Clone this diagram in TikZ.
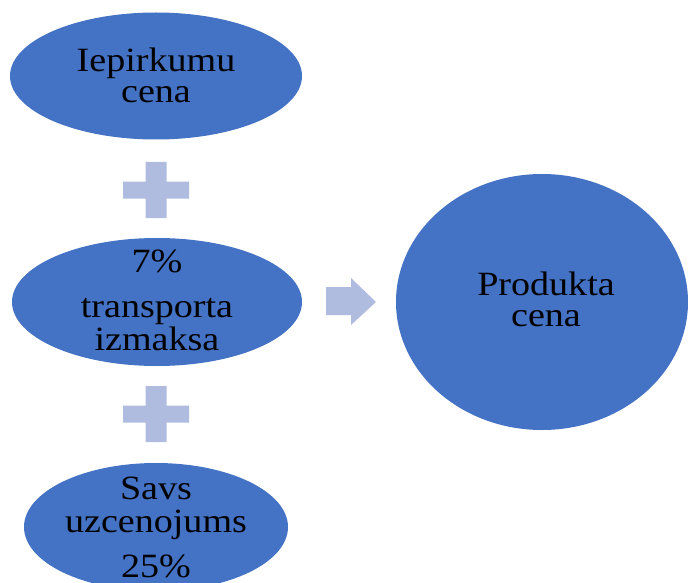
\documentclass[tikz,border=0pt]{standalone}
\usepackage{fontspec}
\setmainfont[FakeStretch=1.12]{Liberation Serif}
\usetikzlibrary{shapes.geometric}
\definecolor{ellblue}{HTML}{4472C4}
\definecolor{lightblue}{HTML}{AFBCE0}
\tikzset{
  ell/.style={ellipse, fill=ellblue, draw=none, inner sep=0pt},
  lbl/.style={anchor=base, text=black, align=center, font=\fontsize{34}{31}\selectfont, inner sep=0pt},
  sym/.style={fill=lightblue, draw=none}
}
\begin{document}
\begin{tikzpicture}[x=1pt, y=-1pt]
\useasboundingbox (0,0) rectangle (688,583);
\clip (0,0) rectangle (688,583);
% ellipses
\node[ell, minimum width=292pt, minimum height=127pt] (e1) at (156,76) {};
\node[ell, minimum width=290pt, minimum height=128pt] (e2) at (157,302) {};
\node[ell, minimum width=264pt, minimum height=128pt] (e3) at (156,527) {};
\node[ell, minimum width=292pt, minimum height=256pt] (e4) at (542,302) {};
% plus signs
\fill[sym] (145.5,162) -- (166.5,162) -- (166.5,181.5) -- (189,181.5) -- (189,198.5) -- (166.5,198.5) -- (166.5,218) -- (145.5,218) -- (145.5,198.5) -- (123,198.5) -- (123,181.5) -- (145.5,181.5) -- cycle;
\fill[sym] (145.5,386) -- (166.5,386) -- (166.5,405.5) -- (189,405.5) -- (189,422.5) -- (166.5,422.5) -- (166.5,442) -- (145.5,442) -- (145.5,422.5) -- (123,422.5) -- (123,405.5) -- (145.5,405.5) -- cycle;
% arrow
\fill[sym] (326,287) -- (351,287) -- (351,278) -- (376,302) -- (351,325) -- (351,315) -- (326,315) -- cycle;
% texts (anchored at the baseline of the last line)
\node[lbl] (t1) at (156,102.5) {Iepirkumu\\cena};
\node[lbl] (t2) at (157,350) {7\%\\[14pt]transporta\\[2pt]izmaksa};
\node[lbl] (t3) at (156,577) {Savs\\[2pt]uzcenojums\\[14pt]25\%};
\node[lbl] (t4) at (546,326) {Produkta\\cena};
\end{tikzpicture}
\end{document}
